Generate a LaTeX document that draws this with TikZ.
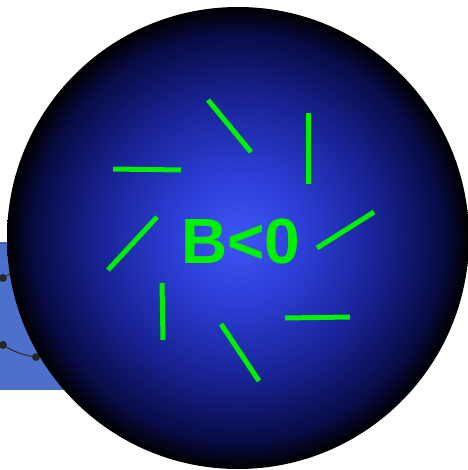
\documentclass[tikz,border=0pt]{standalone}
\usepackage{fontspec}
\setmainfont{Liberation Sans}
\definecolor{grn}{RGB}{0,240,0}
\definecolor{panel}{RGB}{78,112,205}
\definecolor{panelline}{RGB}{60,90,170}
\definecolor{sphA}{RGB}{62,85,245}
\definecolor{sphB}{RGB}{45,62,215}
\definecolor{sphC}{RGB}{25,35,150}
\definecolor{sphD}{RGB}{8,12,70}
\pgfdeclareradialshading{sphere}{\pgfpoint{0bp}{0bp}}{color(0bp)=(sphA); color(7bp)=(sphB); color(15bp)=(sphC); color(22bp)=(sphD); color(25bp)=(black); color(50bp)=(black)}
\begin{document}
\begin{tikzpicture}[x=1pt,y=-1pt,
  seg/.style={draw=grn,line width=5pt},
  dot/.style={circle,fill=black!85,inner sep=0pt,minimum size=8pt}]
\useasboundingbox (0,0) rectangle (467,470);
\fill[white] (0,0) rectangle (467,470);
% background panel
\fill[panel] (0,242) rectangle (70,390);
\draw[panelline,line width=1pt] (0,243) -- (70,243);
\node[dot] (d1) at (3,278) {};
\node[dot] (d2) at (3,345) {};
\node[dot] (d3) at (36,357) {};
\draw[black!80,line width=1.2pt] (d1) -- (20,268);
\draw[black!80,line width=1.2pt] (d2) to[bend right=10] (d3);
% sphere
\shade[shading=sphere] (238,238) circle (231);
% green segments
\coordinate (a1) at (208,100); \coordinate (b1) at (251,152);
\coordinate (a2) at (308,113); \coordinate (b2) at (308,184);
\coordinate (a3) at (113,169); \coordinate (b3) at (181,170);
\coordinate (a4) at (157,217); \coordinate (b4) at (108,270);
\coordinate (a5) at (374,212); \coordinate (b5) at (317,248);
\coordinate (a6) at (162,283); \coordinate (b6) at (163,340);
\coordinate (a7) at (285,318); \coordinate (b7) at (350,317);
\coordinate (a8) at (221,324); \coordinate (b8) at (259,381);
\foreach \i in {1,...,8} {\draw[seg] (a\i) -- (b\i);}
\node[text=grn,font=\fontsize{64}{64}\bfseries,inner sep=0pt] (t) at (241,241) {B<0};
\end{tikzpicture}
\end{document}
